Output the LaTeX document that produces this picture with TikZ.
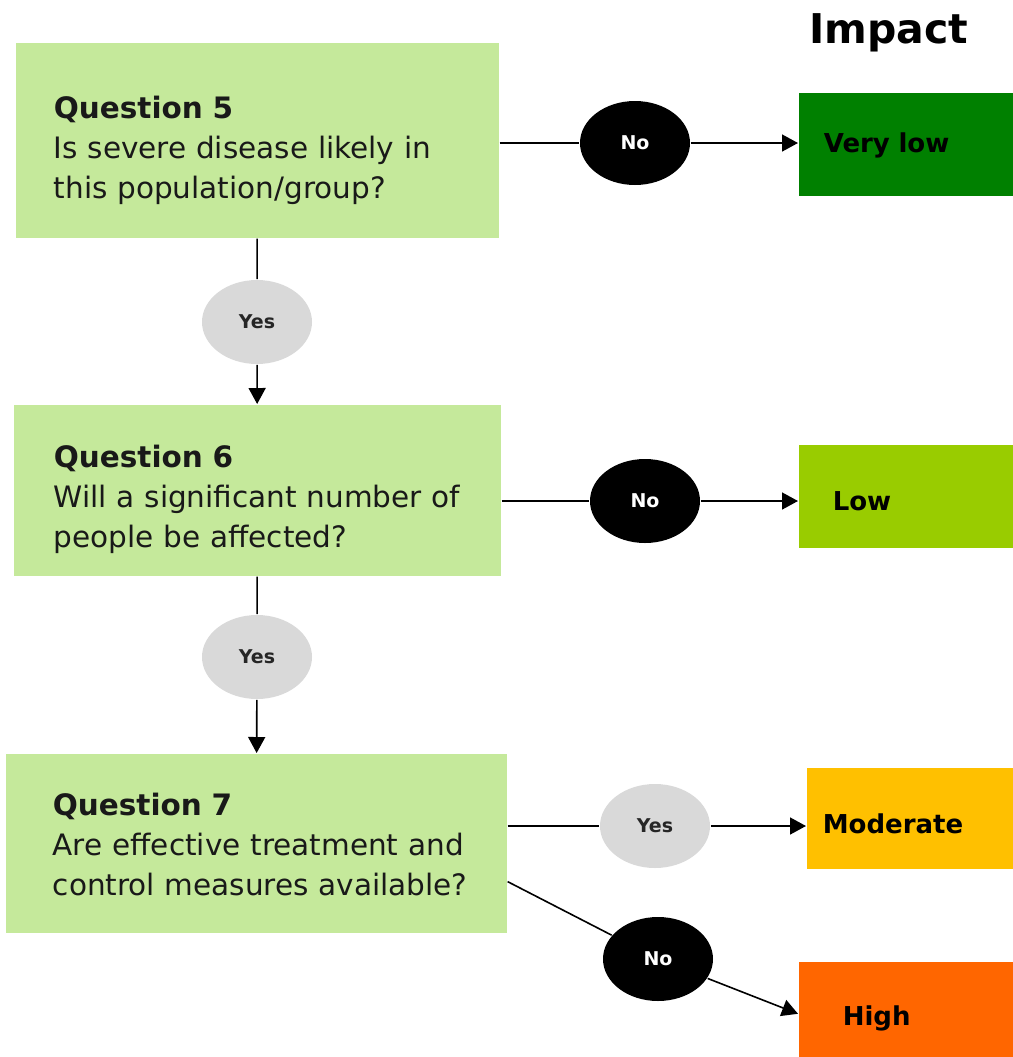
\documentclass[tikz,border=0pt]{standalone}
\usepackage{fontspec}
\setmainfont{DejaVu Sans}
\usetikzlibrary{positioning,shapes.geometric,arrows.meta}
\definecolor{qgreen}{HTML}{C5E99B}
\definecolor{verylowgreen}{HTML}{008000}
\definecolor{lowgreen}{HTML}{99CC00}
\definecolor{modorange}{HTML}{FFC000}
\definecolor{highorange}{HTML}{FF6600}
\definecolor{yesgray}{HTML}{D9D9D9}
\begin{document}
\begin{tikzpicture}[%
    x=0.5pt,y=-0.5pt,->,>={Triangle[length=8pt,width=8.5pt]},line width=0.8pt,
    question/.style={%
      rectangle,fill=qgreen,align=left,anchor=north west,text width=203.5pt,
      inner ysep=0pt,text=black!90,font=\fontsize{14.75}{20}\selectfont},
    impact/.style={%
      rectangle,align=left,anchor=north west,inner ysep=0pt,
      font=\bfseries\fontsize{13}{16}\selectfont},
    answer/.style={%
      ellipse,minimum width=55pt,minimum height=42pt,inner sep=0pt,
      font=\bfseries\fontsize{9.5}{11}\selectfont},
    yesoval/.style={answer,fill=yesgray,text=black!85},
    nooval/.style={answer,fill=black,text=white}
  ]
    \useasboundingbox (0,0) rectangle (1013,1057);
    % questions
    \node[question,inner xsep=19pt,text height=38pt,text depth=59.5pt] (q5) at (15,42)
      {\textbf{Question 5}\\Is severe disease likely in\\this population/group?};
    \node[question,inner xsep=20pt,text height=31.5pt,text depth=54pt] (q6) at (13,404)
      {\textbf{Question 6}\\Will a significant number of\\people be affected?};
    \node[question,inner xsep=23.5pt,text height=31pt,text depth=58.5pt] (q7) at (5,753)
      {\textbf{Question 7}\\\mbox{Are effective treatment and}\\\mbox{control measures available?}};
    \coordinate (q7low) at ([yshift=26pt]q7.south east);
    % impact
    \node[anchor=base west,font=\bfseries\fontsize{20.5}{24}\selectfont] (title) at (802,43) {Impact};
    \node[impact,fill=verylowgreen,inner xsep=12.5pt,text width=82.5pt,text height=30pt,text depth=21.5pt] (vlow) at (798,92) {Very low};
    \node[impact,fill=lowgreen,inner xsep=17pt,text width=73.5pt,text height=33pt,text depth=18.5pt] (low) at (798,444) {Low};
    \node[impact,fill=modorange,inner xsep=8pt,text width=87.5pt,text height=33pt,text depth=17.5pt] (mod) at (806,767) {Moderate};
    \node[impact,fill=highorange,inner xsep=22pt,text width=63.5pt,text height=32pt,text depth=20pt] (high) at (798,961) {High};
    % answers
    \node[nooval] (no5) at (635,143) {No};
    \node[yesoval] (yes5) at (257,322) {Yes};
    \node[nooval] (no6) at (645,501) {No};
    \node[yesoval] (yes6) at (257,657) {Yes};
    \node[yesoval] (yes7) at (655,826) {Yes};
    \node[nooval] (no7) at (658,959) {No};
    \path (q5.east |- no5) edge[-] (no5)
          (no5)            edge     (vlow.west |- no5)
          (q5)             edge[-] (yes5)
          (yes5)           edge     (q6)
          (q6.east |- no6) edge[-] (no6)
          (no6)            edge     (low.west |- no6)
          (q6)             edge[-] (yes6)
          (yes6)           edge     (q7)
          (q7.east |- yes7) edge[-] (yes7)
          (yes7)           edge     (mod.west |- yes7)
          (q7low)          edge[-] (no7)
          (no7)            edge     (high.west)
          ;
\end{tikzpicture}
\end{document}
